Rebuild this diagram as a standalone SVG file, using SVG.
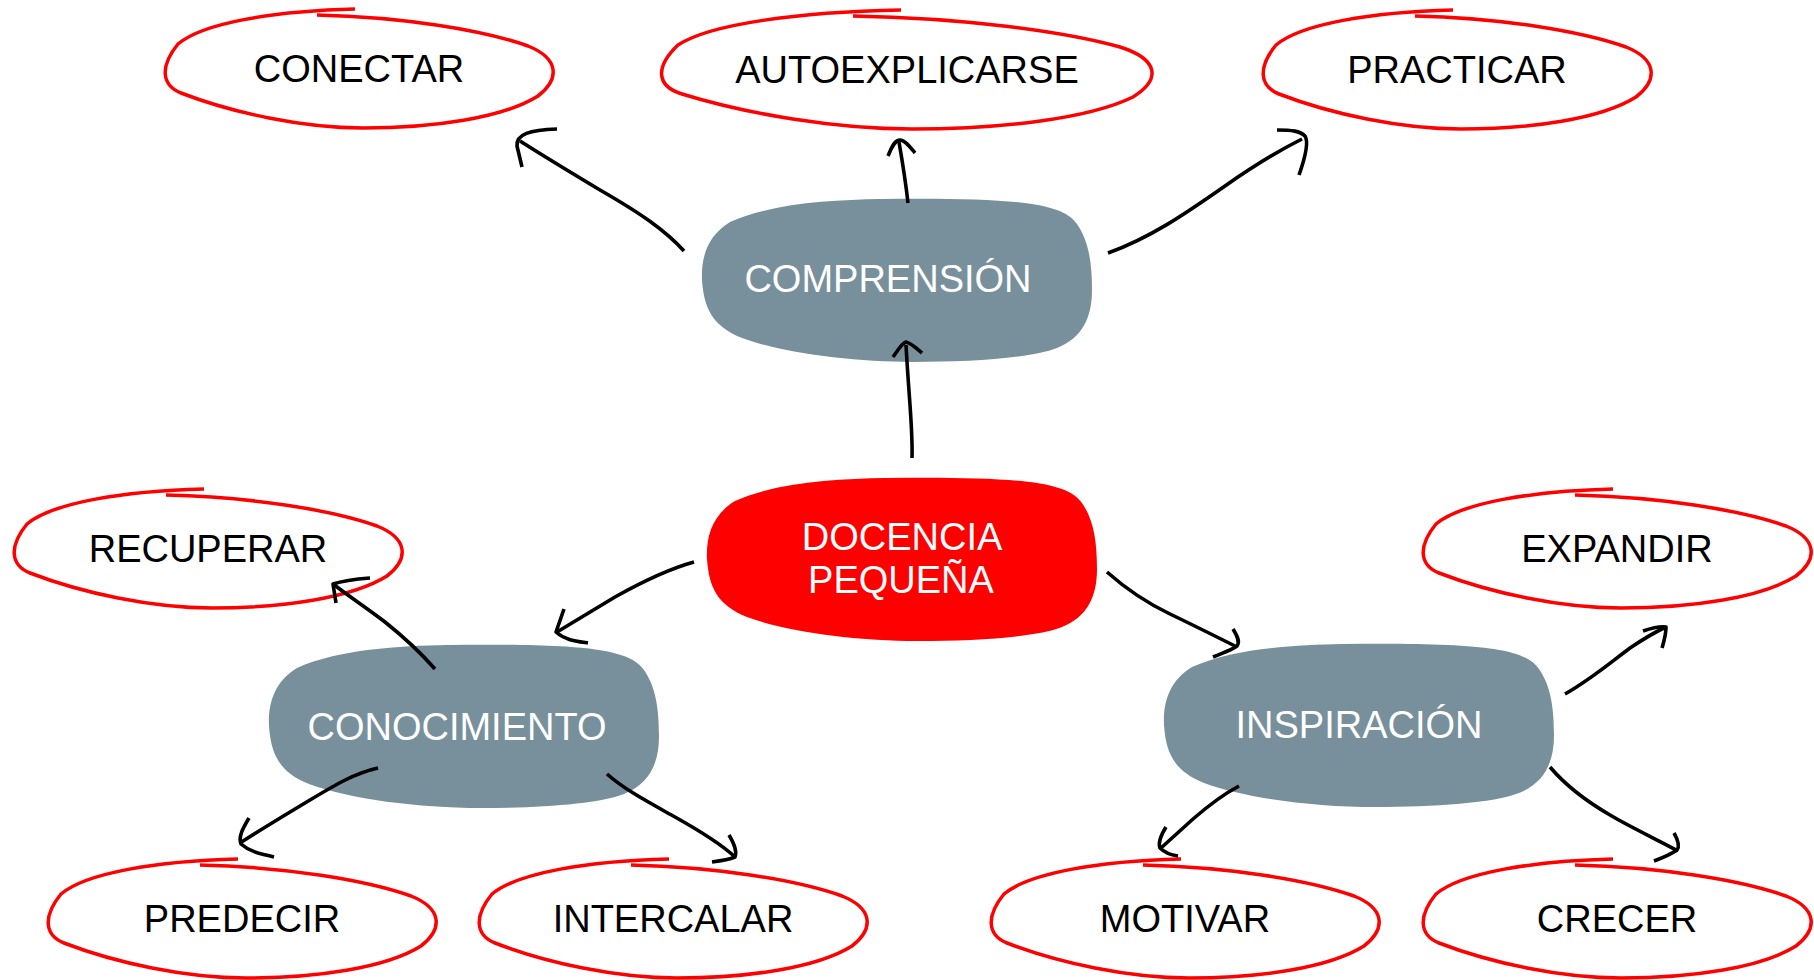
<svg xmlns="http://www.w3.org/2000/svg" xmlns:xlink="http://www.w3.org/1999/xlink" width="1814" height="980" viewBox="0 0 1814 980">
<style>
.ell{fill:none;stroke:#ff0000;stroke-width:3.5;stroke-linecap:butt;stroke-linejoin:round}
.con path{fill:none;stroke:#000;stroke-width:3.6;stroke-linecap:butt;stroke-linejoin:round}
.lbl{font-family:'Liberation Sans',Arial,sans-serif;font-size:38px;text-anchor:middle}
.dk{fill:#000}
.wt{fill:#fff}
</style>
<defs>
<path id="ellN" d="M154,7 C240,9 320,22 365,38 C395,50 398,70 375,88 C340,110 270,120 200,120 C140,120 70,105 18,85 C-2,77 -3,58 15,36 C40,15 110,3 192,1"/>
<path id="ellW" d="M194,7 C303,9 404,22 461,38 C499,50 503,70 474,88 C429,110 341,120 253,120 C177,120 88,105 23,85 C-3,77 -4,58 19,36 C51,15 139,3 242,1"/>
<path id="blob" d="M28,24 C70,5 130,2 178,1 C240,0 300,1 330,6 C355,10 368,16 375,26 C386,42 390,62 390,92 C390,120 380,140 355,150 C330,160 270,164 211,164 C150,164 80,155 40,140 C10,128 2,110 0,82 C-1,60 5,38 28,24 Z"/>
</defs>
<rect width="1814" height="980" fill="#fff"/>

<g id="comprension"><use xlink:href="#blob" transform="translate(702,198)" fill="#78909c"/><text class="lbl wt" x="888" y="292">COMPRENSIÓN</text></g>
<g id="docencia"><use xlink:href="#blob" transform="translate(707,477)" fill="#ff0000"/><text class="lbl wt" x="902" y="550">DOCENCIA</text><text class="lbl wt" x="901" y="593">PEQUEÑA</text></g>
<g id="conocimiento"><use xlink:href="#blob" transform="translate(269,644)" fill="#78909c"/><text class="lbl wt" x="457" y="740">CONOCIMIENTO</text></g>
<g id="inspiracion"><use xlink:href="#blob" transform="translate(1164,643)" fill="#78909c"/><text class="lbl wt" x="1359" y="738">INSPIRACIÓN</text></g>

<g id="conectar"><use xlink:href="#ellN" class="ell" transform="translate(163,8)"/><text class="lbl dk" x="359" y="82">CONECTAR</text></g>
<g id="autoexplicarse"><use xlink:href="#ellW" class="ell" transform="translate(659,9)"/><text class="lbl dk" x="907" y="83">AUTOEXPLICARSE</text></g>
<g id="practicar"><use xlink:href="#ellN" class="ell" transform="translate(1261,9)"/><text class="lbl dk" x="1457" y="83">PRACTICAR</text></g>
<g id="recuperar"><use xlink:href="#ellN" class="ell" transform="translate(12,488)"/><text class="lbl dk" x="208" y="562">RECUPERAR</text></g>
<g id="expandir"><use xlink:href="#ellN" class="ell" transform="translate(1421,488)"/><text class="lbl dk" x="1617" y="562">EXPANDIR</text></g>
<g id="predecir"><use xlink:href="#ellN" class="ell" transform="translate(46,858)"/><text class="lbl dk" x="242" y="932">PREDECIR</text></g>
<g id="intercalar"><use xlink:href="#ellN" class="ell" transform="translate(477,858)"/><text class="lbl dk" x="673" y="932">INTERCALAR</text></g>
<g id="motivar"><use xlink:href="#ellN" class="ell" transform="translate(989,858)"/><text class="lbl dk" x="1185" y="932">MOTIVAR</text></g>
<g id="crecer"><use xlink:href="#ellN" class="ell" transform="translate(1421,858)"/><text class="lbl dk" x="1617" y="932">CRECER</text></g>

<g id="connectors" class="con">
<path d="M684,251 C665,230 640,213 600,190 C570,172 545,157 520,141"/>
<path d="M557,129 C530,130 516,134 517,146 L522,167"/>
<path d="M908,203 C906,185 903,165 899,142"/>
<path d="M888,156 C892,146 895,140 900,140 C905,140 910,147 915,153"/>
<path d="M1108,253 C1150,238 1185,214 1225,186 C1255,165 1280,150 1302,139"/>
<path d="M1277,130 C1292,130 1300,131 1305,136 C1309,142 1305,158 1299,175"/>
<path d="M912,458 C913,430 909,400 906,345"/>
<path d="M893,357 C898,350 902,343 906,342 C911,343 916,348 922,353"/>
<path d="M694,562 C665,570 640,583 615,597 C595,609 575,621 557,632"/>
<path d="M564,609 L556,632 C565,640 575,641 588,643"/>
<path d="M1107,572 C1125,588 1145,602 1170,614 C1195,626 1215,636 1237,647"/>
<path d="M1233,629 C1238,637 1240,642 1237,646 C1230,651 1222,653 1213,657"/>
<path d="M435,669 C420,652 405,638 385,622 C368,609 350,597 333,584"/>
<path d="M336,603 L333,584 C345,580 357,579 370,578"/>
<path d="M378,768 C355,773 335,785 310,800 C285,815 260,830 240,843"/>
<path d="M249,818 C243,828 238,837 241,844 C250,852 262,854 274,857"/>
<path d="M607,774 C625,790 650,803 675,817 C700,831 720,843 735,857"/>
<path d="M729,835 C735,845 737,852 735,857 C728,860 720,861 712,862"/>
<path d="M1565,694 C1590,680 1610,663 1630,648 C1642,640 1655,632 1666,627"/>
<path d="M1643,631 C1652,628 1660,626 1666,627 C1666,635 1664,641 1662,648"/>
<path d="M1239,786 C1222,795 1208,806 1193,819 C1182,829 1171,839 1161,848"/>
<path d="M1166,827 C1161,835 1158,843 1160,848 C1165,853 1171,855 1178,856"/>
<path d="M1550,767 C1566,786 1586,801 1610,815 C1632,828 1660,841 1678,851"/>
<path d="M1674,833 C1678,840 1680,846 1677,850 C1670,855 1662,858 1654,861"/>
</g>
</svg>
